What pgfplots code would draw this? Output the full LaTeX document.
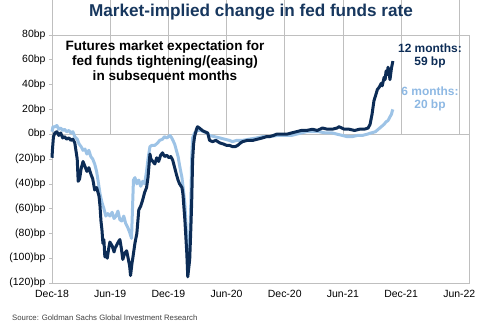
\documentclass[border=0pt]{standalone}
\usepackage{pgfplots}
\pgfplotsset{compat=1.18}
\usepackage{fontspec}
\setmainfont{Liberation Sans}
\definecolor{darkblue}{HTML}{0C2C56}
\definecolor{lightblue}{HTML}{9DC3E6}
\definecolor{labelblue}{HTML}{8DB8E3}
\definecolor{titleblue}{HTML}{17375E}
\definecolor{framegray}{HTML}{BFBFBF}
\begin{document}
\begin{tikzpicture}
\useasboundingbox (-52bp,-41bp) rectangle (428bp,283bp);
\begin{axis}[
  at={(0,0)}, anchor=south west,
  scale only axis, width=417bp, height=248bp,
  xmin=0, xmax=43, ymin=-120, ymax=80,
  axis line style={framegray, line width=0.8pt},
  xtick={0,6,12,18,24,30,36,42},
  xticklabels={Dec-18,Jun-19,Dec-19,Jun-20,Dec-20,Jun-21,Dec-21,Jun-22},
  xtick style={draw=none},
  ytick={-120,-100,-80,-60,-40,-20,0,20,40,60,80},
  yticklabels={(120)bp,(100)bp,(80)bp,(60)bp,(40)bp,(20)bp,0bp,20bp,40bp,60bp,80bp},
  ytick style={framegray, line width=0.6pt},
  tick align=outside, ytick pos=left, major tick length=3bp,
  tick label style={font=\fontsize{10.5}{12}\selectfont, text=black},
  xticklabel style={yshift=-1bp},
  clip=false,
]
\draw[framegray, line width=0.8pt] (axis cs:0,0) -- (axis cs:43,0);
\pgfplotsinvokeforeach{0,6,12,18,24,30,36,42}{\draw[framegray, line width=0.8pt] (axis cs:#1,0) -- ++(0,-4bp);}
% 6 months (light)
\addplot[lightblue, line width=3bp, line join=round] coordinates {
(0.0,2) (0.1,6) (0.3,6) (0.5,7) (0.7,4) (0.9,5) (1.1,3) (1.3,4) (1.5,2) (1.75,3) (1.95,1) (2.15,2) (2.35,-2) (2.6,-4) (2.8,-8) (3.0,-10) (3.2,-13) (3.4,-12) (3.6,-16) (3.8,-13) (4.0,-18) (4.2,-20) (4.4,-24) (4.6,-30) (4.8,-40) (4.95,-48) (5.15,-55) (5.35,-60) (5.55,-66) (5.75,-64) (5.97,-66) (6.2,-63) (6.4,-68) (6.6,-66) (6.8,-62) (7.0,-69) (7.2,-70) (7.4,-66) (7.6,-72) (7.8,-75) (8.0,-79) (8.2,-84) (8.3,-60) (8.4,-37) (8.55,-35) (8.75,-40) (8.95,-37) (9.15,-42) (9.35,-38) (9.55,-40) (9.75,-30) (9.9,-20) (10.1,-10) (10.3,-9) (10.6,-9) (10.9,-7) (11.1,-5) (11.4,-4) (11.6,-2) (11.85,-3) (12.15,-1) (12.35,-3) (12.65,-8) (13.0,-18) (13.15,-25) (13.4,-35) (13.55,-45) (13.7,-56) (13.8,-70) (13.9,-85) (14.0,-103) (14.1,-98) (14.2,-85) (14.3,-60) (14.4,-20) (14.5,-3) (14.7,1) (15.0,3) (15.35,3) (15.65,2) (15.95,1) (16.25,-1) (16.75,-2) (17.3,-3) (17.8,-4) (18.3,-5) (18.6,-6) (19.05,-5) (19.65,-5) (20.35,-4) (21.1,-3) (21.7,-2) (22.4,-2) (23.25,-1) (24.2,-1) (24.7,-1) (25.2,0) (25.7,1) (26.25,2) (26.85,2) (27.55,2) (28.2,1) (28.9,1) (29.4,0) (29.95,-1) (30.45,-2) (30.95,-2) (31.5,-1) (32.0,-1) (32.5,0) (32.9,1) (33.35,2) (33.65,4) (33.95,6) (34.25,8) (34.45,10) (34.65,11) (34.85,14) (35.0,16) (35.1,19) (35.15,20)
};
% 12 months (dark)
\addplot[darkblue, line width=3bp, line join=round] coordinates {
(0.0,-19) (0.05,-12) (0.15,-2) (0.3,1) (0.5,2) (0.7,-1) (0.9,1) (1.1,-3) (1.3,-2) (1.5,-4) (1.75,-3) (1.95,-5) (2.15,-4) (2.35,-7) (2.6,-20) (2.7,-38) (2.85,-36) (3.0,-28) (3.2,-22) (3.4,-26) (3.6,-30) (3.8,-27) (4.0,-32) (4.2,-36) (4.4,-45) (4.6,-43) (4.85,-50) (4.95,-58) (5.05,-70) (5.15,-77) (5.25,-88) (5.35,-85) (5.45,-99) (5.55,-95) (5.7,-100) (5.85,-92) (5.97,-87) (6.2,-90) (6.4,-95) (6.5,-92) (6.7,-89) (6.9,-86) (7.0,-85) (7.15,-92) (7.3,-101) (7.5,-96) (7.7,-94) (7.85,-100) (8.0,-106) (8.1,-114) (8.25,-104) (8.35,-99) (8.55,-88) (8.75,-80) (8.95,-61) (9.15,-58) (9.35,-53) (9.55,-47) (9.75,-43) (9.9,-35) (10.1,-16) (10.2,-20) (10.4,-22) (10.6,-24) (10.8,-19) (11.0,-22) (11.2,-17) (11.4,-15) (11.6,-18) (11.85,-17) (12.05,-19) (12.25,-18) (12.45,-21) (12.65,-27) (12.85,-33) (13.0,-37) (13.15,-40) (13.4,-43) (13.5,-48) (13.7,-69) (13.9,-96) (14.0,-115) (14.1,-108) (14.2,-101) (14.3,-80) (14.4,-56) (14.5,-21) (14.6,-8) (14.7,-2) (14.9,4) (15.0,6) (15.2,5) (15.5,3) (15.75,2) (16.05,1) (16.25,-5) (16.55,-6) (16.9,-5) (17.3,-7) (17.7,-8) (18.0,-9) (18.3,-9) (18.6,-10) (18.9,-10) (19.15,-9) (19.45,-7) (19.65,-6) (20.15,-5) (20.7,-5) (21.2,-4) (21.7,-3) (22.1,-2) (22.4,-2) (22.85,-1) (23.15,0) (23.65,0) (24.2,0) (24.7,1) (25.2,2) (25.7,3) (26.25,3) (26.85,4) (27.35,3) (27.9,5) (28.4,4) (28.9,4) (29.4,5) (29.6,6) (30.15,4) (30.65,4) (31.2,3) (31.7,4) (32.2,4) (32.6,5) (32.8,8) (33.0,16) (33.2,27) (33.4,32) (33.55,36) (33.75,38) (33.95,41) (34.05,39) (34.25,46) (34.35,44) (34.45,51) (34.55,48) (34.65,54) (34.75,50) (34.85,44) (35.0,53) (35.1,57) (35.15,59)
};
\end{axis}
\node[font=\fontsize{17.2}{20}\selectfont\bfseries, text=titleblue] at (199bp,271bp) {Market-implied change in fed funds rate};
\node[font=\fontsize{13.6}{15.5}\selectfont\bfseries, align=center, inner sep=0pt] at (113bp,221bp) {Futures market expectation for\\fed funds tightening/(easing)\\in subsequent months};
\node[font=\fontsize{12}{13.5}\selectfont\bfseries, align=center, inner sep=0pt, text=darkblue] at (378bp,227bp) {12 months:\\59 bp};
\node[font=\fontsize{12}{13.5}\selectfont\bfseries, align=center, inner sep=0pt, text=labelblue] at (378bp,184bp) {6 months:\\20 bp};
\node[font=\fontsize{7.8}{9}\selectfont, text=black!75, anchor=west, inner sep=0pt] at (-40bp,-35bp) {Source: Goldman Sachs Global Investment Research};
\end{tikzpicture}
\end{document}
